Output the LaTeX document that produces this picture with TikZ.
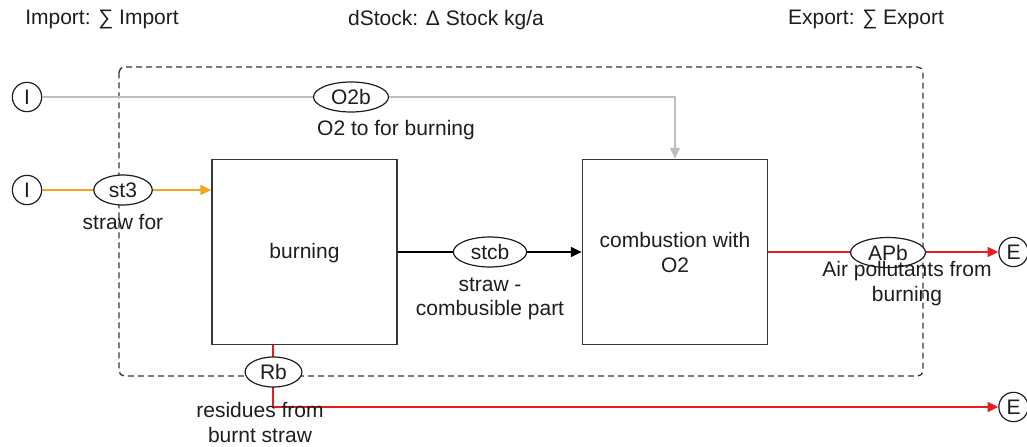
\documentclass[tikz,border=0pt]{standalone}
\usepackage{fontspec}
\setmainfont{Liberation Sans}
\usetikzlibrary{shapes.geometric,arrows.meta}
\definecolor{txtcol}{RGB}{30,30,30}
\definecolor{boxcol}{RGB}{55,55,55}
\definecolor{grayflow}{RGB}{190,190,190}
\definecolor{orangeflow}{RGB}{242,163,35}
\definecolor{redflow}{RGB}{232,28,28}
\tikzset{
  every node/.style={font=\fontsize{15.75}{18.5}\selectfont, text=txtcol},
  procbox/.style={draw=boxcol, line width=1.1pt, minimum width=139pt, minimum height=139pt, inner sep=0pt, align=center},
  flowell/.style={ellipse, draw=txtcol, line width=0.9pt, fill=white, minimum height=22.5pt, inner xsep=5pt, inner ysep=0pt},
  termcirc/.style={circle, draw=txtcol, line width=0.9pt, fill=white, minimum size=22pt, inner sep=0pt},
  flowtext/.style={align=center, inner sep=0pt},
  sysbound/.style={draw=boxcol, line width=1pt, dash pattern=on 4.5pt off 3pt, rounded corners=4pt},
  tipA/.style={-{Triangle[length=8pt,width=7.5pt]}},
  grayline/.style={draw=grayflow, line width=0.9pt, tipA},
  orangeline/.style={draw=orangeflow, line width=1.2pt, tipA},
  redline/.style={draw=redflow, line width=1.1pt, tipA},
  blackline/.style={draw=black, line width=1pt, tipA},
}
\begin{document}
\begin{tikzpicture}[x=0.75pt, y=-0.75pt]
\useasboundingbox (0,0) rectangle (1027,446);
% header texts
\node[flowtext] (himp) at (102,20) {Import: ∑ Import};
\node[flowtext] (hstock) at (446,20) {dStock: Δ Stock kg/a};
\node[flowtext] (hexp) at (866,20) {Export: ∑ Export};
% system boundary
\coordinate (bndA) at (119,67);
\coordinate (bndB) at (923,376);
\draw[sysbound] (bndA) rectangle (bndB);
% terminals
\node[termcirc] (I1) at (27,97) {I};
\node[termcirc] (I2) at (27,190) {I};
\node[termcirc] (E1) at (1013.5,252) {E};
\node[termcirc] (E2) at (1013.5,407) {E};
% processes
\node[procbox] (burn) at (304.5,252) {};
\node[flowtext] (burntxt) at (304.5,253) {burning};
\node[procbox] (comb) at (675,252) {};
\node[flowtext] (combtxt) at (675,252.5) {combustion with\\O2};
% connectors
\draw[grayline] (I1.east) -- (I1.east -| comb.north) -- (comb.north);
\draw[orangeline] (I2.east) -- (I2.east -| burn.west);
\draw[blackline] (burn.east) -- (comb.west);
\draw[redline] (comb.east) -- (E1.west);
\coordinate (rbtop) at (273,344.5);
\coordinate (rbbend) at (273,407);
\draw[redline] (rbtop) -- (rbbend) -- (E2.west);
% flow labels
\node[flowell] (O2b) at (351,97) {O2b};
\node[flowtext] (O2btxt) at (396,130) {O2 to for burning};
\node[flowell] (st3) at (123,190) {st3};
\node[flowtext] (st3txt) at (123,222) {straw for};
\node[flowell] (stcb) at (490,252) {stcb};
\node[flowtext] (stcbtxt) at (490,299) {straw -\\combusible part};
\node[flowell] (APb) at (888,252.5) {APb};
\node[flowtext] (APbtxt) at (907,283.5) {Air pollutants from\\burning};
\node[flowell] (Rb) at (273.5,372) {Rb};
\node[flowtext] (Rbtxt) at (260,422.5) {residues from\\burnt straw};
\end{tikzpicture}
\end{document}
